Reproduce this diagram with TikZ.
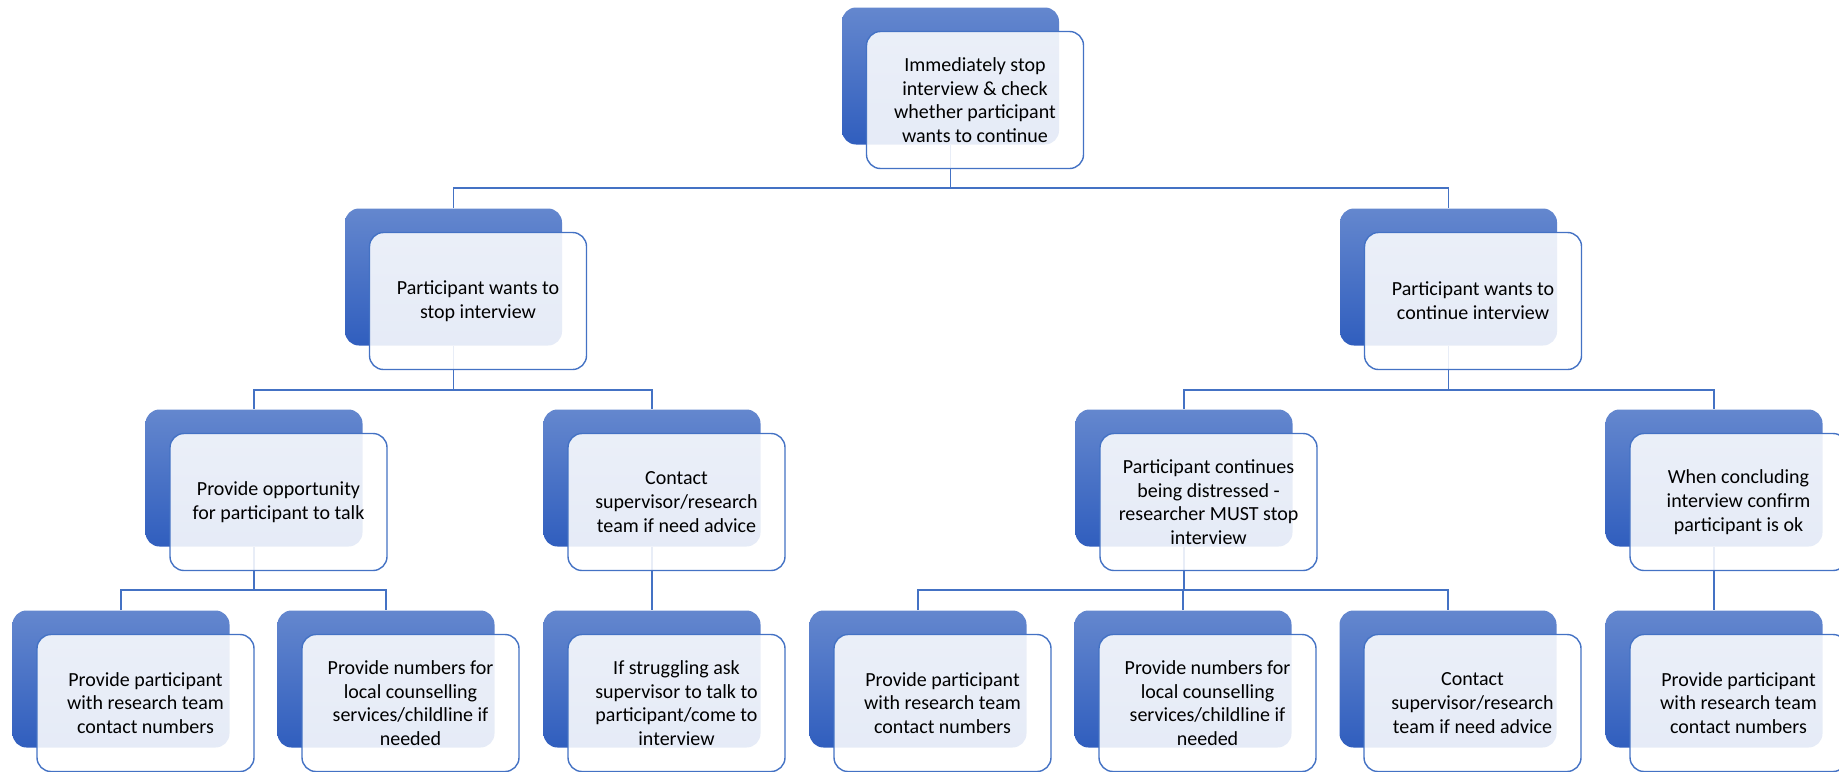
\documentclass[tikz,border=0pt]{standalone}
\usepackage{fontspec}
\setmainfont{Carlito}
\definecolor{boxtop}{RGB}{100,135,206}
\definecolor{boxbot}{RGB}{48,94,190}
\definecolor{lineblue}{RGB}{68,114,196}
\tikzset{
  shadebox/.style={rounded corners=7pt, minimum width=108.5pt, minimum height=68.5pt, top color=boxtop, bottom color=boxbot},
  textbox/.style={rounded corners=7pt, minimum width=108.5pt, minimum height=68.5pt, draw=lineblue, line width=0.7pt, fill=white, fill opacity=0.88, text opacity=1, align=center, font=\fontsize{10}{11.85}\selectfont},
  link/.style={draw=lineblue, line width=0.75pt},
}
\begin{document}
\begin{tikzpicture}[x=0.5pt, y=-0.5pt]
      \clip (0,0) rectangle (1839,771);

      % coloured boxes behind
      \node[shadebox] (checkbg) at (950.5,76) {};
      \node[shadebox] (stopbg) at (453.5,277) {};
      \node[shadebox] (contbg) at (1448.5,277) {};
      \node[shadebox] (talkbg) at (254,478) {};
      \node[shadebox] (advicebg) at (652,478) {};
      \node[shadebox] (distressbg) at (1184,478) {};
      \node[shadebox] (confirmbg) at (1714,478) {};
      \node[shadebox] (teamAbg) at (121,679) {};
      \node[shadebox] (servAbg) at (386,679) {};
      \node[shadebox] (strugglebg) at (652,679) {};
      \node[shadebox] (teamBbg) at (918,679) {};
      \node[shadebox] (servBbg) at (1183,679) {};
      \node[shadebox] (adviceBbg) at (1448,679) {};
      \node[shadebox] (teamCbg) at (1714,679) {};

      \coordinate (bus0) at (0,188);
      \coordinate (bus1) at (0,390);
      \coordinate (bus2) at (0,590);

      \draw[link] (checkbg.south) -- (checkbg.south |- bus0);
      \draw[link] (stopbg.north) |- (contbg.north |- bus0) -- (contbg.north);
      \draw[link] (stopbg.south) -- (stopbg.south |- bus1);
      \draw[link] (talkbg.north) |- (advicebg.north |- bus1) -- (advicebg.north);
      \draw[link] (contbg.south) -- (contbg.south |- bus1);
      \draw[link] (distressbg.north) |- (confirmbg.north |- bus1) -- (confirmbg.north);
      \draw[link] (talkbg.south) -- (talkbg.south |- bus2);
      \draw[link] (teamAbg.north) |- (servAbg.north |- bus2) -- (servAbg.north);
      \draw[link] (advicebg.south) -- (strugglebg.north);
      \draw[link] (distressbg.south) -- (distressbg.south |- bus2);
      \draw[link] (teamBbg.north) |- (adviceBbg.north |- bus2) -- (adviceBbg.north);
      \draw[link] (servBbg.north) -- (servBbg.north |- bus2);
      \draw[link] (confirmbg.south) -- (teamCbg.north);

      % text boxes in front
      \node[textbox] (check) at ([shift={(24.5,24)}]checkbg.center) {Immediately stop\\interview \& check\\whether participant\\wants to continue};
      \node[textbox] (stop) at ([shift={(24.5,24)}]stopbg.center) {Participant wants to\\stop interview};
      \node[textbox] (cont) at ([shift={(24.5,24)}]contbg.center) {Participant wants to\\continue interview};
      \node[textbox] (talk) at ([shift={(24.5,24)}]talkbg.center) {Provide opportunity\\for participant to talk};
      \node[textbox] (advice) at ([shift={(24.5,24)}]advicebg.center) {Contact\\supervisor/research\\team if need advice};
      \node[textbox] (distress) at ([shift={(24.5,24)}]distressbg.center) {Participant continues\\being distressed -\\researcher MUST stop\\interview};
      \node[textbox] (confirm) at ([shift={(24.5,24)}]confirmbg.center) {When concluding\\interview confirm\\participant is ok};
      \node[textbox] (teamA) at ([shift={(24.5,24)}]teamAbg.center) {Provide participant\\with research team\\contact numbers};
      \node[textbox] (servA) at ([shift={(24.5,24)}]servAbg.center) {Provide numbers for\\local counselling\\services/childline if\\needed};
      \node[textbox] (struggle) at ([shift={(24.5,24)}]strugglebg.center) {If struggling ask\\supervisor to talk to\\participant/come to\\interview};
      \node[textbox] (teamB) at ([shift={(24.5,24)}]teamBbg.center) {Provide participant\\with research team\\contact numbers};
      \node[textbox] (servB) at ([shift={(24.5,24)}]servBbg.center) {Provide numbers for\\local counselling\\services/childline if\\needed};
      \node[textbox] (adviceB) at ([shift={(24.5,24)}]adviceBbg.center) {Contact\\supervisor/research\\team if need advice};
      \node[textbox] (teamC) at ([shift={(24.5,24)}]teamCbg.center) {Provide participant\\with research team\\contact numbers};
\end{tikzpicture}
\end{document}
